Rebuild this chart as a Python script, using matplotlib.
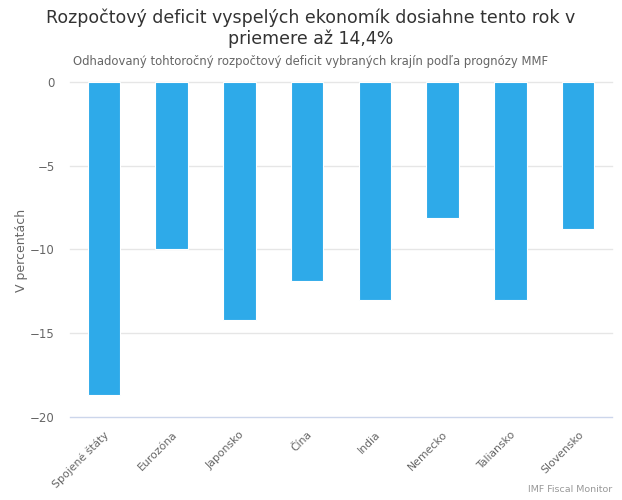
import matplotlib
matplotlib.use("Agg")
import matplotlib.pyplot as plt

# Data (% of GDP)
krajiny = ["Spojené štáty", "Eurozóna", "Japonsko", "Čína", "India",
           "Nemecko", "Taliansko", "Slovensko"]
deficit = [-18.7, -10.0, -14.2, -11.9, -13.0, -8.1, -13.0, -8.8]
y_ticks = [0, -5, -10, -15, -20]

plt.rcParams['font.family'] = ['DejaVu Sans']

fig = plt.figure(figsize=(6.22, 5.0), dpi=100)
ax = fig.add_axes([70/622, 1 - 417/500, 542/622, 335/500])

x = list(range(len(krajiny)))
ax.bar(x, deficit, width=0.48, color='#2eaae9', edgecolor='white',
       linewidth=0.8, zorder=3)

ax.set_xlim(-0.5, len(krajiny) - 0.5)
ax.set_ylim(-20, 0)
ax.set_yticks(y_ticks)
ax.set_yticklabels([str(t) if t == 0 else '\u2212' + str(-t) for t in y_ticks])
for t in y_ticks:
    col = '#ccd6eb' if t == -20 else '#e6e6e6'
    ax.axhline(t, color=col, linewidth=1, zorder=1, clip_on=False)

for s in ax.spines.values():
    s.set_visible(False)
ax.tick_params(axis='y', length=0, pad=11, labelsize=8.5, labelcolor='#666666')
ax.tick_params(axis='x', length=0, pad=9, labelsize=7.8, labelcolor='#666666')
ax.set_xticks(x)
ax.set_xticklabels(krajiny, rotation=45, ha='right', rotation_mode='anchor')

fig.text(22/622, 1 - 250/500, 'V percentách', rotation=90, ha='center', va='center',
         fontsize=9, color='#666666')

fig.text(0.5, 1 - 28/500, 'Rozpočtový deficit vyspelých ekonomík dosiahne tento rok v\npriemere až 14,4%',
         ha='center', va='center', fontsize=12.5, color='#333333', linespacing=1.15)
fig.text(0.5, 1 - 62/500, 'Odhadovaný tohtoročný rozpočtový deficit vybraných krajín podľa prognózy MMF',
         ha='center', va='center', fontsize=8.4, color='#666666')
fig.text(612/622, 1 - 490/500, 'IMF Fiscal Monitor', ha='right', va='center',
         fontsize=6.8, color='#999999')

fig.savefig('out.png', dpi=100)
